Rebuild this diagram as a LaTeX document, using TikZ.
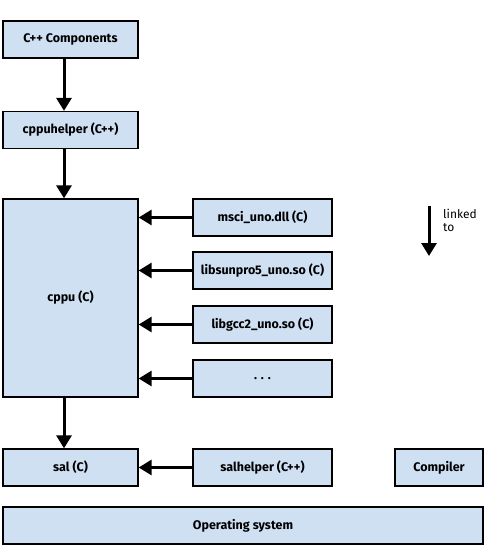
\documentclass[tikz,border=0pt]{standalone}
\usepackage{fontspec}
\setmainfont{Fira Sans}
\usetikzlibrary{arrows.meta}
\definecolor{boxfill}{HTML}{CFE0F3}
\tikzset{
  box/.style={draw=black, line width=1.3pt, fill=boxfill, inner sep=0pt,
    minimum height=37pt, font=\bfseries\fontsize{12.5}{14}\selectfont},
  lbox/.style={box, minimum width=135pt},
  rbox/.style={box, minimum width=139pt},
  arr/.style={line width=3pt, -{Triangle[length=13pt,width=15pt]}}
}
\begin{document}
\begin{tikzpicture}[x=1pt,y=-1pt]
\useasboundingbox (0,0) rectangle (485,545);
\node[lbox] (comp) at (70.5,39.5) {C++ Components};
\node[lbox] (helper) at (70.5,130) {cppuhelper (C++)};
\node[lbox, minimum height=198pt] (cppu) at (70.5,298) {cppu (C)};
\node[rbox] (msci) at (262.5,217.5) {msci\_uno.dll (C)};
\node[rbox] (sunpro) at (262.5,270.5) {libsunpro5\_uno.so (C)};
\node[rbox] (gcc) at (262.5,324.5) {libgcc2\_uno.so (C)};
\node[rbox] (dots) at (262.5,378.5) {. . .};
\node[lbox] (sal) at (70.5,467.5) {sal (C)};
\node[rbox] (salh) at (262.5,467.5) {salhelper (C++)};
\node[box, minimum width=88pt] (compiler) at (439,467.5) {Compiler};
\node[box, minimum width=480pt] (os) at (243,525.5) {Operating system};
\draw[arr] ([xshift=-6.5pt]comp.south) -- ([xshift=-6.5pt]helper.north);
\draw[arr] ([xshift=-6.5pt]helper.south) -- ([xshift=-6.5pt]cppu.north);
\draw[arr] ([xshift=-6.5pt]cppu.south) -- ([xshift=-6.5pt]sal.north);
\draw[arr] (msci.west) -- (msci.west -| cppu.east);
\draw[arr] (sunpro.west) -- (sunpro.west -| cppu.east);
\draw[arr] (gcc.west) -- (gcc.west -| cppu.east);
\draw[arr] (dots.west) -- (dots.west -| cppu.east);
\draw[arr] (salh.west) -- (sal.east);
\coordinate (ls) at (429,206);
\coordinate (le) at (429,256);
\draw[arr] (ls) -- (le);
\node[anchor=north west, inner sep=0pt, align=left, font=\fontsize{12}{13}\selectfont] (lt) at (443,209) {linked\\to};
\end{tikzpicture}
\end{document}
